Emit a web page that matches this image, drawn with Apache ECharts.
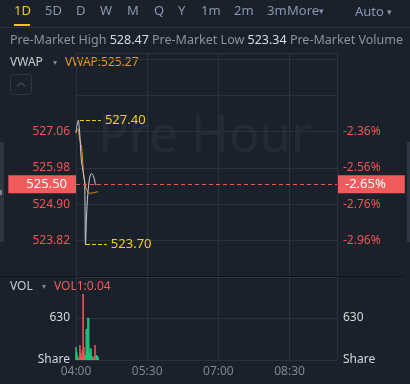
<!DOCTYPE html>
<html><head><meta charset="utf-8">
<script src="https://cdn.jsdelivr.net/npm/echarts@6/dist/echarts.min.js"></script>
<style>html,body{margin:0;padding:0;background:#1b212b;}#c{width:410px;height:384px;}</style>
</head><body><div id="c"></div>
<script>
// ---------- data ----------
const tabs = ['1D','5D','D','W','M','Q','Y','1m','2m','3m','More'];
const timeTickLabels = ['04:00','05:30','07:00','08:30'];
const priceTickLabels = ['523.82','524.90','525.98','527.06'];
const minutesFromOpen = [0,1,2,3,4,5,6,7,8,9,10,11,12,13,14,15,16,17,18,19,20,21,22,23,24,25,26,27,28];
const price = [527.03,527.21,527.33,527.40,527.21,526.91,526.46,526.14,526.02,525.87,525.72,525.54,523.70,524.36,524.87,525.23,525.47,525.66,525.75,525.81,525.81,525.78,525.75,525.66,525.56,525.48,525.50];
const vwap = [527.03,527.12,527.14,527.12,526.95,526.80,526.70,526.60,526.35,525.95,525.70,525.58,525.45,525.35,525.30,525.26,525.24,525.23,525.23,525.23,525.24,525.24,525.25,525.25,525.26,525.26,525.27,525.27,525.27];
const volume = [195,120,60,10,30,225,100,40,150,990,200,60,80,465,470,635,630,100,180,170,60,30,20,60,225,40,75,60,40];
const volumeUp = [1,1,1,1,0,0,0,0,0,0,0,0,1,1,1,1,1,1,1,1,1,1,0,0,0,0,1,1,1];
const preMarketHigh = '528.47';
const preMarketLow = '523.34';
const prevClose = 539.80;
const lastPrice = 525.50;
const vol1Text = 'VOL1:0.04';

// ---------- axis parameters ----------
const BASE = 522.74, STEP = 1.08;
const GRID = '#2a323d', RED = '#ee5552', GREEN = '#20c07a';
const FONT = '"Noto Sans", "Open Sans", sans-serif';

const priceData = price.map((p,i)=>[minutesFromOpen[i], +(p-BASE).toFixed(4)]);
const vwapData = vwap.map((p,i)=>[minutesFromOpen[i], +(p-BASE).toFixed(4)]);
const volData = volume.map((v,i)=>({value:[minutesFromOpen[i], v], itemStyle:{color: volumeUp[i]?GREEN:RED}}));

let hiIdx=0, loIdx=0;
price.forEach((p,i)=>{ if(p>price[hiIdx]) hiIdx=i; if(p<price[loIdx]) loIdx=i; });
const hi = price[hiIdx], lo = price[loIdx];
const pct = v => (((v)/prevClose-1)*100).toFixed(2)+'%';

const chart = echarts.init(document.getElementById('c'), null, {renderer:'canvas'});

const tabX = [14,45,76,100,127,154,178,201,234,267,287];
const graphics = [];
tabs.forEach((t,i)=>graphics.push({type:'text', left:tabX[i], top:5, z:10,
  style:{text:t, fill: i===0?'#f2c811':'#8797ad', font:'13px '+FONT}}));
graphics.push({type:'text', left:319, top:7, style:{text:'▾', fill:'#8797ad', font:'9px '+FONT}});
graphics.push({type:'text', left:355, top:6, style:{text:'Auto', fill:'#8797ad', font:'13px '+FONT}});
graphics.push({type:'text', left:387, top:8, style:{text:'▾', fill:'#8797ad', font:'9px '+FONT}});
graphics.push({type:'rect', shape:{x:14,y:24,width:16,height:2}, style:{fill:'#f2c811'}});
graphics.push({type:'line', shape:{x1:0,y1:27.5,x2:410,y2:27.5}, style:{stroke:'#2c3440', lineWidth:1}});
graphics.push({type:'text', left:10, top:34, style:{
  rich:{g:{fill:'#8a93a0', font:'12.5px '+FONT}, w:{fill:'#d9dde3', font:'12.5px '+FONT}},
  text:'{g|Pre-Market High }{w|'+preMarketHigh+'}{g| Pre-Market Low }{w|'+preMarketLow+'}{g| Pre-Market Volume}'}});
// watermark
graphics.push({type:'text', left:98, top:112, z:-10, silent:true, style:{text:'Pre Hour', fill:'#242b36', font:'51px '+FONT}});
// VWAP legend
graphics.push({type:'text', left:10, top:57, style:{text:'VWAP', fill:'#c8ccd2', font:'12px '+FONT}});
graphics.push({type:'text', left:53, top:59, style:{text:'▾', fill:'#7d8693', font:'8px '+FONT}});
graphics.push({type:'text', left:65, top:57, style:{text:'VWAP:'+vwap[vwap.length-1].toFixed(2), fill:'#ef951c', font:'12px '+FONT}});
graphics.push({type:'rect', shape:{x:10.5,y:74.5,width:21,height:20,r:3}, style:{fill:'none', stroke:'#2e3744', lineWidth:1}});
graphics.push({type:'polyline', shape:{points:[[17,86.5],[21,82.5],[25,86.5]]}, style:{fill:'none', stroke:'#5a6573', lineWidth:1}});
// VOL legend
graphics.push({type:'text', left:10, top:281, style:{text:'VOL', fill:'#c8ccd2', font:'12px '+FONT}});
graphics.push({type:'text', left:42, top:283, style:{text:'▾', fill:'#7d8693', font:'8px '+FONT}});
graphics.push({type:'text', left:54, top:281, style:{text:vol1Text, fill:'#e6605a', font:'12px '+FONT}});
// separators & side strips
graphics.push({type:'line', z:5, shape:{x1:0,y1:276.5,x2:405,y2:276.5}, style:{stroke:'#10151b', lineWidth:1}});
graphics.push({type:'rect', shape:{x:0,y:142,width:4,height:100}, style:{fill:'#2e3744'}});
graphics.push({type:'rect', shape:{x:0,y:190,width:2,height:5}, style:{fill:'#7d8693'}});
graphics.push({type:'rect', shape:{x:407,y:142,width:3,height:100}, style:{fill:'#2e3744'}});

const hidden = {show:false};
const option = {
  backgroundColor:'#1b212b',
  animation:false,
  textStyle:{fontFamily:FONT},
  graphic: graphics,
  grid:[{left:76,right:73,top:53,bottom:107},{left:76,right:73,top:277,bottom:24}],
  xAxis:[
    {type:'value', gridIndex:0, min:0, max:330, interval:90, axisLabel:hidden, axisLine:hidden, axisTick:hidden,
     splitLine:{show:true, lineStyle:{color:GRID, width:1}}},
    {type:'value', gridIndex:1, min:0, max:330, interval:90, axisLine:hidden, axisTick:hidden,
     axisLabel:{color:'#7d8693', fontSize:12, margin:6, fontFamily:FONT,
       formatter:v=>{const i=Math.round(v/90); return (Math.abs(v-i*90)<1e-6 && i<timeTickLabels.length)?timeTickLabels[i]:'';}},
     splitLine:{show:true, lineStyle:{color:GRID, width:1}}}
  ],
  yAxis:[
    {type:'value', gridIndex:0, position:'left', min:0, max:6.66, interval:STEP, axisLine:hidden, axisTick:hidden,
     axisLabel:{color:RED, fontSize:12, margin:6, fontFamily:FONT,
       formatter:v=>{const s=(BASE+v).toFixed(2); return priceTickLabels.indexOf(s)>=0?s:'';}},
     splitLine:{show:true, lineStyle:{color:GRID, width:1}}},
    {type:'value', gridIndex:0, position:'right', min:0, max:6.66, interval:STEP, axisLine:hidden, axisTick:hidden,
     axisLabel:{color:RED, fontSize:12, margin:6, fontFamily:FONT,
       formatter:v=>{const s=(BASE+v).toFixed(2); return priceTickLabels.indexOf(s)>=0?pct(BASE+v):'';}},
     splitLine:hidden},
    {type:'value', gridIndex:1, position:'left', min:0, max:1245, interval:630, axisLine:hidden, axisTick:hidden,
     axisLabel:{color:'#d4d8de', fontSize:12, margin:6, fontFamily:FONT,
       formatter:v=> v===0?'Share':(v===630?'630':'')},
     splitLine:{show:true, lineStyle:{color:GRID, width:1}}},
    {type:'value', gridIndex:1, position:'right', min:0, max:1245, interval:630, axisLine:hidden, axisTick:hidden,
     axisLabel:{color:'#d4d8de', fontSize:12, margin:6, fontFamily:FONT,
       formatter:v=> v===0?'Share':(v===630?'630':'')},
     splitLine:hidden}
  ],
  series:[
    {type:'line', name:'VWAP', xAxisIndex:0, yAxisIndex:0, data:vwapData, symbol:'none', smooth:0.3,
     lineStyle:{color:'#e8901b', width:1}, z:3},
    {type:'line', name:'Price', xAxisIndex:0, yAxisIndex:0, data:priceData, symbol:'none', smooth:0.3,
     lineStyle:{color:'#c9cdd3', width:1}, z:4,
     markLine:{silent:true, symbol:['none','none'], animation:false,
       data:[
         {yAxis: lastPrice-BASE, lineStyle:{color:RED, type:[4,3], width:1},
          label:{show:true, position:'start', distance:0, formatter:lastPrice.toFixed(2), color:'#fff', fontSize:13, fontFamily:FONT,
                 backgroundColor:'#f15b5b', padding:[3,9,2,18]}},
         {yAxis: lastPrice-BASE, lineStyle:{color:RED, type:[4,3], width:1},
          label:{show:true, position:'end', distance:1, formatter:pct(lastPrice), color:'#fff', fontSize:13, fontFamily:FONT,
                 backgroundColor:'#f15b5b', padding:[3,19,2,7]}},
         [{coord:[minutesFromOpen[hiIdx]+2, hi-BASE], lineStyle:{color:'#f2d20a', type:[4,2], width:1},
           label:{show:true, position:'end', distance:4, formatter:hi.toFixed(2), color:'#f2d20a', fontSize:13, fontFamily:FONT}},
          {coord:[minutesFromOpen[hiIdx]+28.5, hi-BASE]}],
         [{coord:[minutesFromOpen[loIdx]+0.6, lo-BASE], lineStyle:{color:'#f2d20a', type:[4,2], width:1},
           label:{show:true, position:'end', distance:4, formatter:lo.toFixed(2), color:'#f2d20a', fontSize:13, fontFamily:FONT}},
          {coord:[minutesFromOpen[loIdx]+27, lo-BASE]}]
       ]}},
    {type:'bar', name:'VOL', xAxisIndex:1, yAxisIndex:2, data:volData, barWidth:1.6}
  ]
};
chart.setOption(option);
</script></body></html>
